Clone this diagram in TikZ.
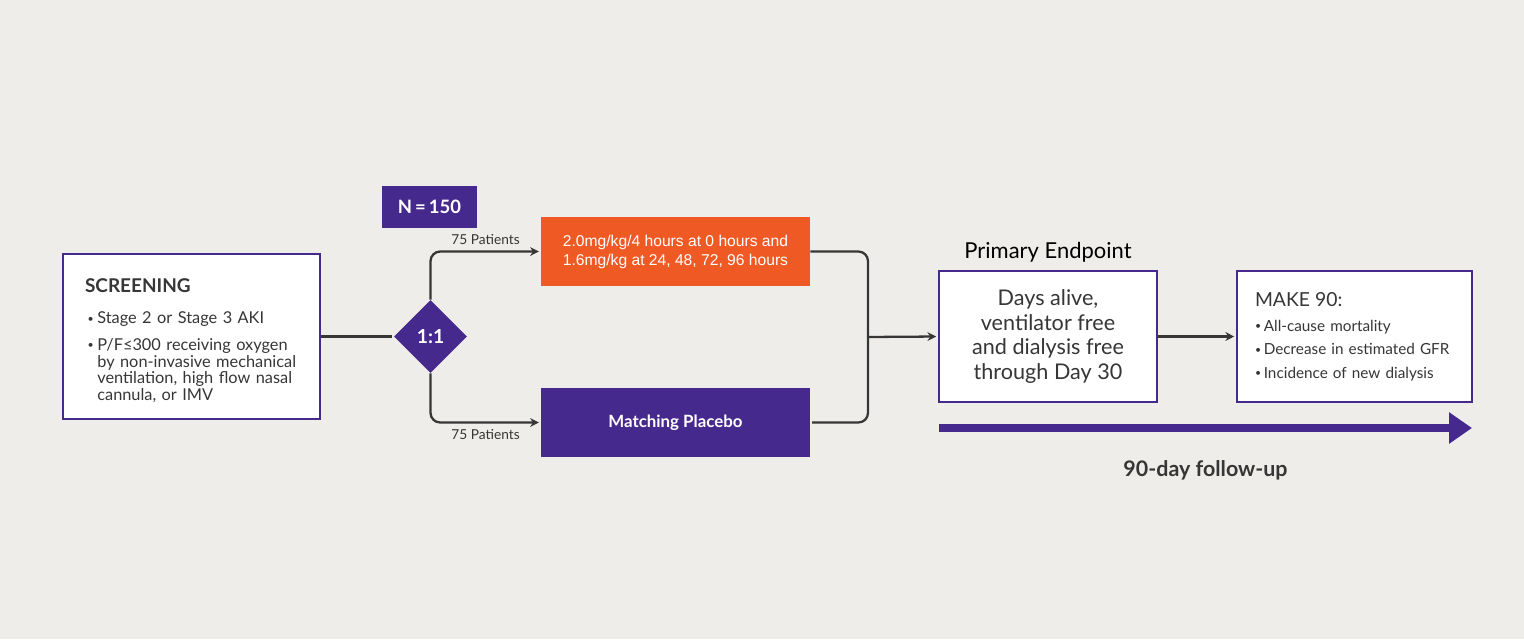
\documentclass[tikz,border=0pt]{standalone}
\usepackage{fontspec}
\setmainfont{Lato}
\newfontfamily\arialfont{Liberation Sans}
\usetikzlibrary{arrows.meta,shapes.geometric,positioning}

\definecolor{trialpurple}{HTML}{46298C}
\definecolor{doseorange}{HTML}{EF5A24}
\definecolor{paper}{HTML}{EEEDE9}
\definecolor{ink}{HTML}{363636}

\newcommand{\dotmark}{\raisebox{0.2ex}{\fontsize{6}{6}\selectfont\textbullet}}
\newcommand{\bul}[1]{\hspace*{1.5pt}\makebox[5.5pt][l]{\dotmark}\parbox[t]{3.95cm}{\raggedright\hfuzz=2cm #1}}
\newcommand{\tightbul}[1]{\makebox[5pt][l]{\dotmark}#1}

\begin{document}
\begin{tikzpicture}[x=0.02cm,y=-0.02cm,>={Stealth[length=5pt,width=5pt]},shorten >=1pt,
    box/.style={draw=trialpurple,line width=1.2pt,fill=white,text=ink},
    arm/.style={fill=#1,text=white,minimum width=5.38cm,minimum height=1.38cm,inner sep=0pt},
    link/.style={draw=ink,line width=1.3pt,rounded corners=5.5pt},
    small/.style={font=\fontsize{7.8}{9}\selectfont,text=ink}]
    \fill[paper] (0,0) rectangle (1524,639);
    \useasboundingbox (0,0) rectangle (1524,639);

    \node[box,minimum width=5.14cm,minimum height=3.3cm,inner xsep=0.44cm,
        text width=4.26cm,align=left,font=\fontsize{9.3}{9.6}\selectfont] (screen) at (191.5,336.5)
        {\rule{0pt}{13pt}{\fontsize{10.8}{13}\selectfont\bfseries SCREENING}\\[8pt]
         \bul{Stage 2 or Stage 3 AKI}\\[5.5pt]
         \bul{P/F≤300 receiving oxygen\\\mbox{by non-invasive mechanical}\\\mbox{ventilation, high flow nasal}\\cannula, or IMV}};

    \node[diamond,aspect=1,fill=trialpurple,minimum size=1.46cm,inner sep=0pt,
        text=white,font=\fontsize{11}{12}\selectfont\bfseries] (ratio) at (430.5,336.5) {1:1};
    \node[fill=trialpurple,minimum width=1.9cm,minimum height=0.84cm,inner sep=0pt,
        text=white,font=\fontsize{10.5}{12}\selectfont\bfseries] (ncount) at (429.5,207) {N\,=\,150};

    \node[arm=doseorange,align=center,font=\arialfont\fontsize{8.9}{10.8}\selectfont] (dose) at (675.5,251.5)
        {2.0mg/kg/4 hours at 0 hours and\\1.6mg/kg at 24, 48, 72, 96 hours};
    \node[arm=trialpurple,font=\fontsize{9.6}{11}\selectfont\bfseries] (placebo) at (675.5,422.5) {Matching Placebo};

    \node[box,minimum width=4.36cm,minimum height=2.62cm,align=center,
        font=\fontsize{12.3}{13.9}\selectfont] (primary) at (1048,336.5)
        {Days alive,\\ventilator free\\and dialysis free\\through Day 30};
    \node[above=1pt of primary,text=black,font=\fontsize{12.5}{14}\selectfont] (primlabel) {Primary Endpoint};

    \node[box,minimum width=4.7cm,minimum height=2.62cm,inner xsep=0.36cm,
        text width=3.98cm,align=left,font=\fontsize{8.7}{13.4}\selectfont] (make) at (1354.5,336.5)
        {{\fontsize{11}{13}\selectfont MAKE 90:}\\[1pt]
         \tightbul{All-cause mortality}\\
         \tightbul{Decrease in estimated GFR}\\
         \tightbul{Incidence of new dialysis}};

    \coordinate (merge) at (868,337);
    \coordinate (tlstart) at (939,428);
    \coordinate (tlend) at (1472,428);

    \draw[link] (screen.east) -- (ratio.west);
    \draw[link,->] (ratio.north) |- (dose.west) node[pos=0.75,above,small] (toplabel) {75 Patients};
    \draw[link,->] (ratio.south) |- (placebo.west) node[pos=0.75,below,small] (botlabel) {75 Patients};
    \draw[link] (dose.east) -| (merge) |- (placebo.east);
    \draw[link,->] (merge) -- (primary.west);
    \draw[link,->] (primary.east) -- (make.west);

    \draw[trialpurple,line width=4.3pt,shorten >=0pt,-{Triangle[length=13pt,width=17pt]}] (tlstart) -- (tlend)
        node[midway,below=13pt,text=ink,font=\fontsize{12.2}{13}\selectfont\bfseries] (followup) {90-day follow-up};
\end{tikzpicture}
\end{document}
